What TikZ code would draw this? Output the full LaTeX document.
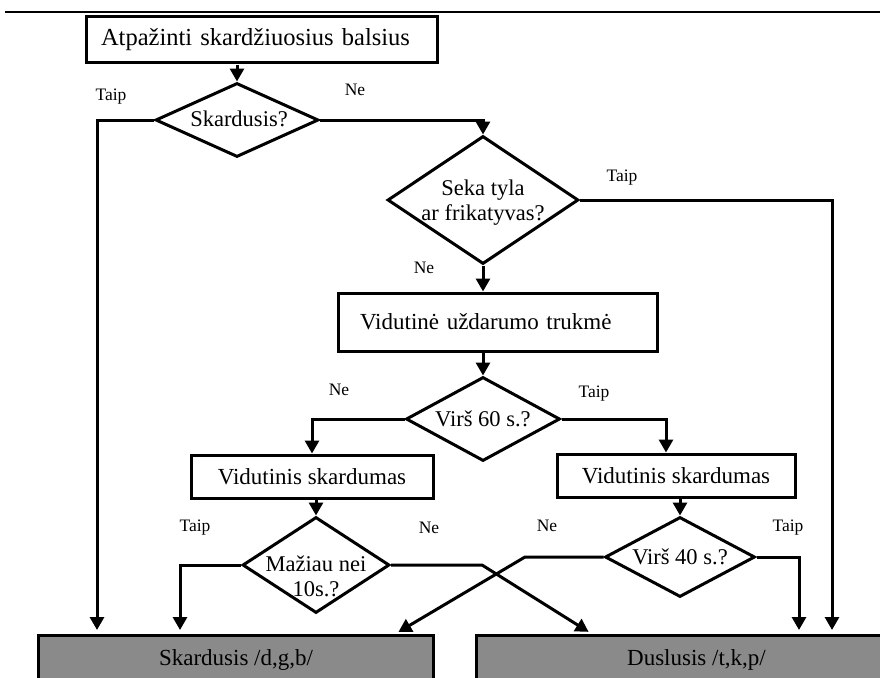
\documentclass[tikz,border=0pt]{standalone}
\usepackage{fontspec}
\setmainfont{Liberation Serif}
\usetikzlibrary{shapes.geometric,arrows.meta}
\definecolor{outgray}{RGB}{138,138,138}

\begin{document}
\begin{tikzpicture}[x=1pt,y=-1pt,
  flow/.style={line width=3pt,-{Triangle[width=14pt,length=13pt]}},
  procbox/.style={draw,line width=3pt,rectangle,inner sep=0pt,
    font=\fontsize{23}{26}\selectfont},
  decision/.style={draw,line width=3pt,diamond,inner sep=0pt},
  dtext/.style={inner sep=0pt,align=center,font=\fontsize{22.5}{25}\selectfont},
  outbox/.style={draw,line width=3pt,fill=outgray,rectangle,inner sep=0pt,
    anchor=north west,font=\fontsize{23}{26}\selectfont},
  lbl/.style={inner sep=0pt,font=\fontsize{17.5}{20}\selectfont}]

\useasboundingbox (0,0) rectangle (880,677);
\clip (0,0) rectangle (880,677);

% rule across the top
\draw[line width=1.8pt] (5,12) -- (880,12);

% process boxes
\node[procbox,minimum width=351pt,minimum height=46pt,text width=335pt,
  inner xsep=8pt,align=left,font=\fontsize{24.5}{27}\selectfont]
  (start) at (261.5,40) {\hspace*{7pt}Atpažinti skardžiuosius balsius};
\node[procbox,minimum width=319pt,minimum height=58pt,text width=275pt,
  inner xsep=22pt,align=left] (box2) at (497.5,322) {Vidutinė uždarumo trukmė};
\node[procbox,minimum width=242pt,minimum height=43pt] (box3) at (312,476.5) {Vidutinis skardumas};
\node[procbox,minimum width=238pt,minimum height=43pt] (box4) at (676,475.5) {Vidutinis skardumas};

% decisions
\node[decision,minimum width=163pt,minimum height=74pt] (q1) at (237,120) {};
\node[dtext] (q1t) at (239,119) {Skardusis?};
\node[decision,minimum width=191pt,minimum height=128pt] (q2) at (483,200) {};
\node[dtext] (q2t) at (483,203) {Seka tyla\\ar frikatyvas?};
\node[decision,minimum width=154pt,minimum height=84pt] (q3) at (483,419) {};
\node[dtext] (q3t) at (483,419) {Virš 60 s.?};
\node[decision,minimum width=147pt,minimum height=96pt] (q4) at (316,565) {};
\node[dtext] (q4t) at (316,576) {Mažiau nei\\10s.?};
\node[decision,minimum width=150pt,minimum height=80pt] (q5) at (680,557) {};
\node[dtext] (q5t) at (680,557) {Virš 40 s.?};

% outcomes
\node[outbox,minimum width=395pt,minimum height=48pt] (out1) at (37,634) {Skardusis /d,g,b/};
\node[outbox,minimum width=440pt,minimum height=48pt] (out2) at (475,634) {Duslusis /t,k,p/};

% bends of the crossing branches
\coordinate (k1) at (482,565);
\coordinate (k2) at (525,557);

% connectors
\draw[flow] (start.south -| q1.north) -- (q1.north);
\draw[flow,shorten >=4pt] (q1.west) -| ([xshift=60pt]out1.north west);
\draw[flow] (q1.east) -| (q2.north);
\draw[flow,shorten >=4pt] (q2.east) -| ([xshift=357pt]out2.north west);
\draw[flow] (q2.south) -- (q2.south |- box2.north);
\draw[flow] (box2.south -| q3.north) -- (q3.north);
\draw[flow] (q3.west) -| (box3.north);
\draw[flow] (q3.east) -| ([xshift=-10pt]box4.north);
\draw[flow] (box3.south -| q4.north) -- (q4.north);
\draw[flow] (box4.south -| q5.north) -- (q5.north);
\draw[flow,shorten >=4pt] (q4.west) -| ([xshift=143pt]out1.north west);
\draw[flow,shorten >=4pt] (q4.east) -- (k1) -- ([xshift=117pt]out2.north west);
\draw[flow,shorten >=4pt] (q5.west) -- (k2) -- ([xshift=358pt]out1.north west);
\draw[flow,shorten >=4pt] (q5.east) -| ([xshift=324pt]out2.north west);

% branch labels
\node[lbl] (l1) at (111,97) {Taip};
\node[lbl] (l2) at (355,90) {Ne};
\node[lbl] (l3) at (622,178) {Taip};
\node[lbl] (l4) at (424,268) {Ne};
\node[lbl] (l5) at (339,390) {Ne};
\node[lbl] (l6) at (594,394) {Taip};
\node[lbl] (l7) at (195,528) {Taip};
\node[lbl] (l8) at (429,528) {Ne};
\node[lbl] (l9) at (547,526) {Ne};
\node[lbl] (l10) at (788,528) {Taip};
\end{tikzpicture}
\end{document}
